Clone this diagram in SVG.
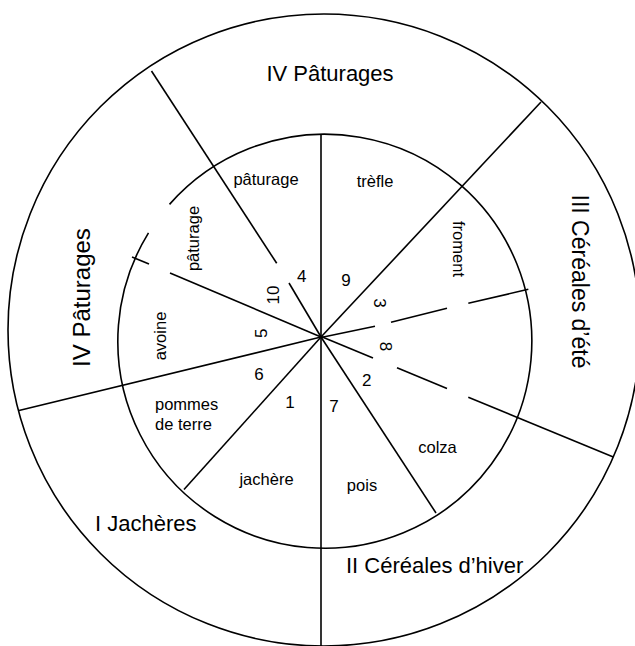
<svg xmlns="http://www.w3.org/2000/svg" width="635" height="646" viewBox="0 0 635 646">
<style>
  .ln { stroke: #000; stroke-width: 1.6; fill: none; stroke-linecap: butt; }
  .big { font-family: "Liberation Sans", Arial, Helvetica, sans-serif; font-size: 22px; fill: #000; }
  .rot { font-family: "Liberation Sans", Arial, Helvetica, sans-serif; font-size: 24px; fill: #000; }
  .sm { font-family: "Liberation Sans", Arial, Helvetica, sans-serif; font-size: 16.5px; fill: #000; }
  .num { font-family: "Liberation Sans", Arial, Helvetica, sans-serif; font-size: 17px; fill: #000; }
</style>
<rect width="635" height="646" fill="#fff"/>
<g id="rings">
  <circle id="outer-ring" class="ln" cx="324" cy="330" r="316"/>
  <path id="inner-ring" class="ln" d="M 169.5 204.4 A 207 207 0 1 1 148.5 232.8"/>
</g>
<g id="connectors">
  <line class="ln" x1="321" y1="135" x2="321" y2="646"/>
  <line class="ln" x1="151.5" y1="71" x2="276.7" y2="263.3"/>
  <line class="ln" x1="289" y1="283" x2="321" y2="337"/>
  <line class="ln" x1="321" y1="337" x2="541" y2="102"/>
  <line class="ln" x1="321" y1="337.5" x2="375" y2="326.2"/>
  <line class="ln" x1="391" y1="322.3" x2="447" y2="308.3"/>
  <line class="ln" x1="468.3" y1="303.3" x2="528.3" y2="289.3"/>
  <line class="ln" x1="321.7" y1="336.7" x2="373" y2="357.9"/>
  <line class="ln" x1="397" y1="367.8" x2="447" y2="388.4"/>
  <line class="ln" x1="468.3" y1="397.2" x2="613.3" y2="457.1"/>
  <line class="ln" x1="321" y1="337" x2="436" y2="513"/>
  <line class="ln" x1="321" y1="337" x2="184" y2="489.5"/>
  <line class="ln" x1="321" y1="337" x2="19" y2="410.5"/>
  <line class="ln" x1="321" y1="337" x2="170" y2="273"/>
  <line class="ln" x1="149" y1="264.1" x2="132" y2="256.9"/>
</g>
<g id="sector-IV-top"><text class="big" x="330" y="81" text-anchor="middle">IV Pâturages</text></g>
<g id="sector-IV-left"><text class="rot" transform="translate(90,297.5) rotate(-90)" text-anchor="middle">IV Pâturages</text></g>
<g id="sector-III"><text class="big" transform="translate(572,281.5) rotate(90)" text-anchor="middle" style="font-size:23px">III Céréales d’été</text></g>
<g id="sector-I"><text class="big" x="95" y="531">I Jachères</text></g>
<g id="sector-II"><text class="big" x="346" y="573">II Céréales d’hiver</text></g>
<g id="field-4"><text class="sm" x="266" y="185" text-anchor="middle">pâturage</text><text class="num" x="297" y="282">4</text></g>
<g id="field-9"><text class="sm" x="375" y="187" text-anchor="middle">trèfle</text><text class="num" x="346" y="285.7" text-anchor="middle">9</text></g>
<g id="field-3"><text class="sm" transform="translate(453,249) rotate(90)" text-anchor="middle">froment</text><text class="num" transform="translate(374,303) rotate(90)" text-anchor="middle">3</text></g>
<g id="field-10"><text class="sm" transform="translate(199,238.5) rotate(-90)" text-anchor="middle">pâturage</text><text class="num" transform="translate(279,295) rotate(-90)" text-anchor="middle">10</text></g>
<g id="field-5"><text class="sm" transform="translate(165.5,336) rotate(-90)" text-anchor="middle">avoine</text><text class="num" transform="translate(266.5,333.3) rotate(-90)" text-anchor="middle">5</text></g>
<g id="field-8"><text class="num" transform="translate(380,346.5) rotate(90)" text-anchor="middle">8</text></g>
<g id="field-6"><text class="sm" x="155" y="410">pommes</text><text class="sm" x="155" y="430">de terre</text><text class="num" x="259" y="380" text-anchor="middle">6</text></g>
<g id="field-1"><text class="sm" x="266.5" y="485" text-anchor="middle">jachère</text><text class="num" x="290" y="408" text-anchor="middle">1</text></g>
<g id="field-7"><text class="sm" x="362" y="491" text-anchor="middle">pois</text><text class="num" x="334" y="411.7" text-anchor="middle">7</text></g>
<g id="field-2"><text class="sm" x="437.5" y="452.7" text-anchor="middle">colza</text><text class="num" x="366.7" y="385.7" text-anchor="middle">2</text></g>
</svg>
